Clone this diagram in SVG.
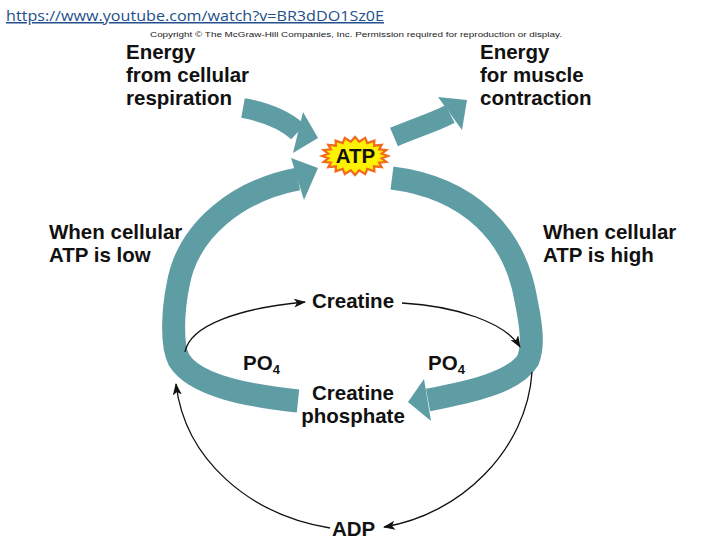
<svg xmlns="http://www.w3.org/2000/svg" width="720" height="540" viewBox="0 0 720 540">
<defs>
<style>
.lbl{font-family:"Liberation Sans",Arial,sans-serif;font-weight:bold;font-size:20.5px;fill:#111}
.band{fill:none;stroke:#5F9DA5;stroke-linecap:butt}
.head{fill:#5F9DA5}
.thin{fill:none;stroke:#111;stroke-width:1.3}
</style>
<marker id="ah" markerUnits="userSpaceOnUse" markerWidth="12" markerHeight="10" refX="11" refY="4.5" orient="auto">
<path d="M0,0 L12,4.5 L0,9 L3,4.5 z" fill="#111"/>
</marker>
</defs>
<rect width="720" height="540" fill="#fff"/>
<text x="6" y="21" font-family="'Open Sans','Liberation Sans',sans-serif" font-size="15" fill="#234F8C" text-decoration="underline" textLength="378" lengthAdjust="spacingAndGlyphs">https://www.youtube.com/watch?v=BR3dDO1Sz0E</text>
<text x="150" y="37" font-family="'Liberation Sans',Arial,sans-serif" font-size="8" fill="#222" textLength="412" lengthAdjust="spacingAndGlyphs">Copyright © The McGraw-Hill Companies, Inc. Permission required for reproduction or display.</text>

<g id="connectors">
<path class="band" stroke-width="20" d="M243,108 C 265,112 285,120 298,132"/>
<polygon class="head" points="303,112 318,138 293,153"/>
<path class="band" stroke-width="20" d="M394,137 C 415,128 435,122 450,114"/>
<polygon class="head" points="438,97 467,100 462,130"/>
<path class="band" stroke-width="23" d="M298,401 C 250,396 195,386 179,360 C 171,345 173,310 178,285 C 188,228 240,190 298,179"/>
<polygon class="head" points="291,158 318,168 304,200"/>
<path class="band" stroke-width="23" d="M392,178 C 470,188 515,235 526,300 C 531,325 534,345 528,360 C 515,382 470,392 428,400"/>
<polygon class="head" points="424,379 408,402 431,421"/>
<path class="thin" marker-end="url(#ah)" d="M185,352 C 190,325 240,308 305,302"/>
<path class="thin" marker-end="url(#ah)" d="M402,303 C 455,306 505,322 520,347"/>
<path class="thin" marker-end="url(#ah)" d="M532,372 C 527,450 460,515 384,527"/>
<path class="thin" marker-end="url(#ah)" d="M330,528 C 250,515 185,460 176,384"/>
</g>

<g id="atp">
<polygon fill="#FFF200" stroke="#F26A1B" stroke-width="2.2" stroke-linejoin="miter" points="388,156 381.7,158.3 386.4,161.9 379.1,162.6 381.7,167.2 374.1,166.3 374.4,171.4 367.3,168.9 365.2,174.1 359.2,170.3 355,175 350.8,170.3 344.8,174.1 342.7,168.9 335.6,171.4 335.9,166.3 328.3,167.2 330.9,162.6 323.6,161.9 328.3,158.3 322,156 328.3,153.7 323.6,150.1 330.9,149.4 328.3,144.8 335.9,145.7 335.6,140.6 342.7,143.1 344.8,137.9 350.8,141.7 355,137 359.2,141.7 365.2,137.9 367.3,143.1 374.4,140.6 374.1,145.7 381.7,144.8 379.1,149.4 386.4,150.1 381.7,153.7"/>
<text class="lbl" x="355.5" y="163" text-anchor="middle" font-size="19.5">ATP</text>
</g>
<g id="energy-resp">
<text class="lbl" x="126" y="59">Energy</text>
<text class="lbl" x="126" y="82">from cellular</text>
<text class="lbl" x="126" y="105">respiration</text>
</g>
<g id="energy-muscle">
<text class="lbl" x="480" y="59">Energy</text>
<text class="lbl" x="480" y="82">for muscle</text>
<text class="lbl" x="480" y="105">contraction</text>
</g>
<g id="atp-low">
<text class="lbl" x="49" y="239">When cellular</text>
<text class="lbl" x="49" y="262">ATP is low</text>
</g>
<g id="atp-high">
<text class="lbl" x="543" y="239">When cellular</text>
<text class="lbl" x="543" y="262">ATP is high</text>
</g>
<g id="creatine">
<text class="lbl" x="312" y="308">Creatine</text>
</g>
<g id="po4-left">
<text class="lbl" x="243" y="370">PO<tspan font-size="13" dy="4">4</tspan></text>
</g>
<g id="po4-right">
<text class="lbl" x="428" y="370">PO<tspan font-size="13" dy="4">4</tspan></text>
</g>
<g id="creatine-phosphate">
<text class="lbl" x="353" y="400" text-anchor="middle">Creatine</text>
<text class="lbl" x="353" y="423" text-anchor="middle">phosphate</text>
</g>
<g id="adp">
<text class="lbl" x="332" y="536">ADP</text>
</g>
</svg>
